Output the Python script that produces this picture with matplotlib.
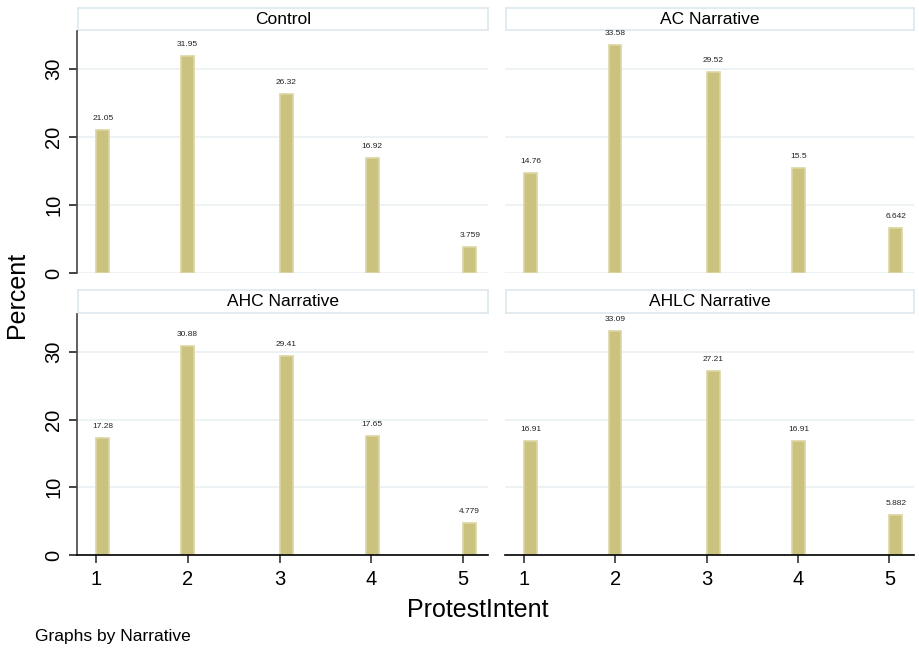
import matplotlib
matplotlib.use("Agg")
from matplotlib import pyplot as plt

plt.rcParams['font.family'] = ['Liberation Sans', 'DejaVu Sans']

panels = ['Control', 'AC Narrative', 'AHC Narrative', 'AHLC Narrative']
levels = [1, 2, 3, 4, 5]
# histogram bin left edges as Stata placed them
bin_left = [1.0, 1.924, 3.0, 3.935, 5.0]
bin_width = 0.142
percent = {
    'Control': [21.05, 31.95, 26.32, 16.92, 3.759],
    'AC Narrative': [14.76, 33.58, 29.52, 15.5, 6.642],
    'AHC Narrative': [17.28, 30.88, 29.41, 17.65, 4.779],
    'AHLC Narrative': [16.91, 33.09, 27.21, 16.91, 5.882],
}
labels = {
    'Control': ['21.05', '31.95', '26.32', '16.92', '3.759'],
    'AC Narrative': ['14.76', '33.58', '29.52', '15.5', '6.642'],
    'AHC Narrative': ['17.28', '30.88', '29.41', '17.65', '4.779'],
    'AHLC Narrative': ['16.91', '33.09', '27.21', '16.91', '5.882'],
}

W, H = 919, 650
fig = plt.figure(figsize=(W / 100, H / 100), dpi=100)

def box(x0, y0, x1, y1):
    return [x0 / W, 1 - y1 / H, (x1 - x0) / W, (y1 - y0) / H]

cols = [(77, 488), (505, 914)]
rows = [(8, 31, 273), (290, 314, 555)]
bar_col = '#cbc27f'
bar_edge = '#dcd6a2'
grid_col = '#eaf1f3'

for i, name in enumerate(panels):
    r, c = divmod(i, 2)
    x0, x1 = cols[c]
    hy0, ay0, ay1 = rows[r]

    # header strip
    hax = fig.add_axes(box(x0 + 1, hy0, x1, ay0 - 1))
    hax.set_xticks([]); hax.set_yticks([])
    for s in hax.spines.values():
        s.set_color('#dde7ed')
        s.set_linewidth(1.2)
    hax.text(0.5, 0.5, name, ha='center', va='center', fontsize=12.5,
             transform=hax.transAxes)

    ax = fig.add_axes(box(x0, ay0, x1, ay1))
    ax.bar(bin_left, percent[name], width=bin_width, align='edge',
           color=bar_col, edgecolor=bar_edge, linewidth=1.2, zorder=3)
    for xl, v, t in zip(bin_left, percent[name], labels[name]):
        ax.annotate(t, (xl + bin_width / 2, v), xytext=(0, 8),
                    textcoords='offset pixels', ha='center', va='bottom',
                    fontsize=6, color='#222222')
    ax.set_xlim(0.79, 5.27)
    ax.set_ylim(0, 35.6)
    for g in [0, 10, 20, 30]:
        ax.axhline(g, color=grid_col, lw=1.2, zorder=1)
    ax.spines['top'].set_visible(False)
    ax.spines['right'].set_visible(False)

    if c == 0:
        ax.spines['left'].set_color('#444444')
        ax.spines['left'].set_linewidth(1.2)
        ax.set_yticks([0, 10, 20, 30])
        ax.set_yticklabels(['0', '10', '20', '30'], rotation=90, va='center')
        ax.tick_params(axis='y', length=6, width=1.2, color='#222222',
                       labelsize=14.5, pad=4)
    else:
        ax.spines['left'].set_visible(False)
        ax.set_yticks([])

    if r == 1:
        ax.spines['bottom'].set_color('black')
        ax.spines['bottom'].set_linewidth(1.2)
        ax.spines['bottom'].set_zorder(4)
        ax.set_xticks(levels)
        ax.tick_params(axis='x', length=6, width=1.2, color='#333333',
                       labelsize=14.5, pad=5)
    else:
        ax.spines['bottom'].set_visible(False)
        ax.set_xticks([])

fig.text(17 / W, 1 - 295 / H, 'Percent', rotation=90, ha='center',
         va='center', fontsize=18)
fig.text(478 / W, 1 - 610 / H, 'ProtestIntent', ha='center', va='center',
         fontsize=18)
fig.text(35 / W, 1 - 637 / H, 'Graphs by Narrative', ha='left',
         va='center', fontsize=12.5)

fig.savefig('out.png', dpi=100, facecolor='white')
